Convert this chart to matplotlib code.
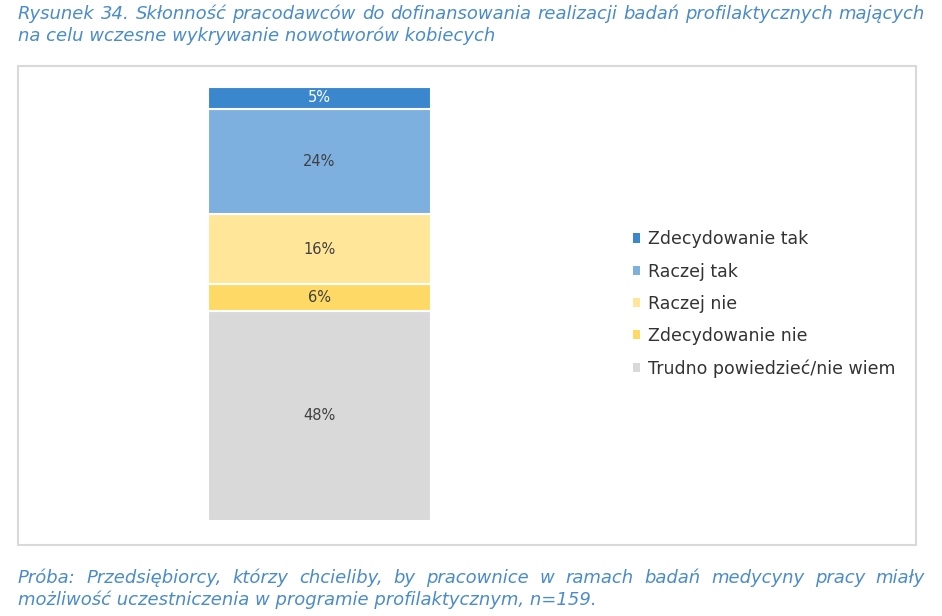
import matplotlib.pyplot as plt
from matplotlib.patches import Rectangle, Patch

# data (bottom to top of the stacked bar)
categories = ["Trudno powiedzieć/nie wiem", "Zdecydowanie nie", "Raczej nie",
              "Raczej tak", "Zdecydowanie tak"]
values = [48, 6, 16, 24, 5]
colors = ["#D9D9D9", "#FFD966", "#FFE699", "#7DAFDF", "#3A87CE"]
label_colors = ["#404040", "#404040", "#404040", "#404040", "#FFFFFF"]

title_lines = ["Rysunek 34. Skłonność pracodawców do dofinansowania realizacji badań profilaktycznych mających",
               "na celu wczesne wykrywanie nowotworów kobiecych"]
note_lines = ["Próba: Przedsiębiorcy, którzy chcieliby, by pracownice w ramach badań medycyny pracy miały",
              "możliwość uczestniczenia w programie profilaktycznym, n=159."]

W, H = 942, 616
blue = "#4A8BCB"

fig = plt.figure(figsize=(W / 100, H / 100), dpi=100)
renderer = fig.canvas.get_renderer()

# frame around chart area
fig.patches.append(Rectangle((18 / W, 1 - 545 / H), (916 - 18) / W, (545 - 66) / H,
                             transform=fig.transFigure, fill=False,
                             edgecolor="#D9D9D9", linewidth=1.5))

ax = fig.add_axes([208 / W, 1 - 521 / H, (431 - 208) / W, (521 - 87) / H])
bottom = 0
for cat, v, c, lc in zip(categories, values, colors, label_colors):
    ax.bar(0, v, width=1.0, bottom=bottom, color=c, edgecolor="white",
           linewidth=1.5, label=cat)
    ax.text(0, bottom + v / 2, f"{v}%", ha="center", va="center",
            fontsize=10.5, color=lc)
    bottom += v
ax.set_xlim(-0.5, 0.5)
ax.set_ylim(0, sum(values))
ax.axis("off")

handles = [Patch(facecolor=c, edgecolor="none") for c in colors][::-1]
fig.legend(handles, categories[::-1], loc="center left",
           bbox_to_anchor=(617 / W, 1 - 304 / H), frameon=False,
           fontsize=12.5, handlelength=0.45, handleheight=0.45,
           handletextpad=0.45, labelspacing=0.82, labelcolor="#333333")


def justified(line, y, x0=18, x1=925, size=13):
    # spread words so the line fills x0..x1
    words = line.split()
    widths = []
    for w in words:
        t = fig.text(0, 0, w, fontsize=size, style="italic")
        widths.append(t.get_window_extent(renderer).width)
        t.remove()
    gap = (x1 - x0 - sum(widths)) / (len(words) - 1)
    x = x0
    for w, wd in zip(words, widths):
        fig.text(x / W, 1 - y / H, w, fontsize=size, style="italic",
                 color=blue, va="center", ha="left")
        x += wd + gap


# title and note
justified(title_lines[0], 14)
fig.text(18 / W, 1 - 36 / H, title_lines[1], fontsize=13,
         style="italic", color=blue, va="center", ha="left")
justified(note_lines[0], 578)
fig.text(18 / W, 1 - 600 / H, note_lines[1], fontsize=13,
         style="italic", color=blue, va="center", ha="left")

fig.savefig("out.png", dpi=100)
